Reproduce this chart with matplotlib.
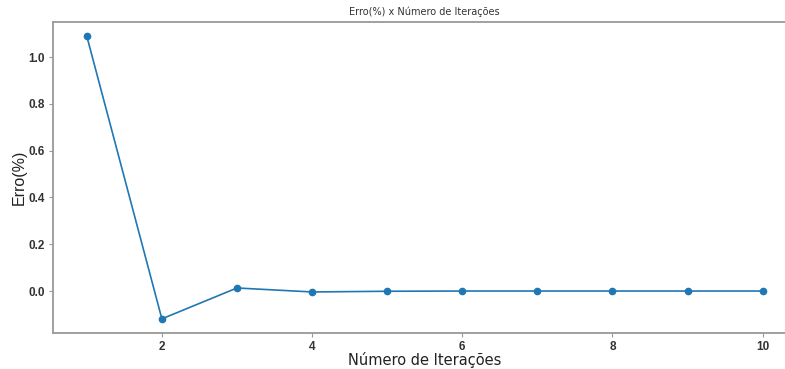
import numpy as np
import matplotlib as mpl
mpl.use('Agg')
import matplotlib.pyplot as plt

iteracoes = [1, 2, 3, 4, 5, 6, 7, 8, 9, 10]
erro = [1.09, -0.119, 0.013, -0.004, -0.001, 0.0, 0.0, 0.0, 0.0, 0.0]

fig = plt.figure(figsize=(7.85, 3.69), dpi=100)
ax = fig.add_axes([0.0675, 0.0976, 0.947, 0.8428])

ax.plot(iteracoes, erro, color='#1f77b4', marker='o', ms=4.5, lw=1.2)
ax.set_title('Erro(%) x Número de Iterações', fontsize=7, pad=5, color='#333333')
ax.set_xlabel('Número de Iterações', fontsize=10.5, labelpad=-1, color='#222222')
ax.set_ylabel('Erro(%)', fontsize=11.5, labelpad=1, family='Liberation Sans',
              color='#222222')
ax.set_xticks([2, 4, 6, 8, 10])

for lab in ax.get_xticklabels() + ax.get_yticklabels():
    lab.set_fontweight('bold')
    lab.set_fontsize(8.5)
    lab.set_family('Liberation Sans')
    lab.set_color('#333333')

for s in ax.spines.values():
    s.set_color('#999999')
    s.set_linewidth(1.3)
ax.tick_params(color='#999999', length=3, pad=3)

fig.savefig('out.png', dpi=100)
